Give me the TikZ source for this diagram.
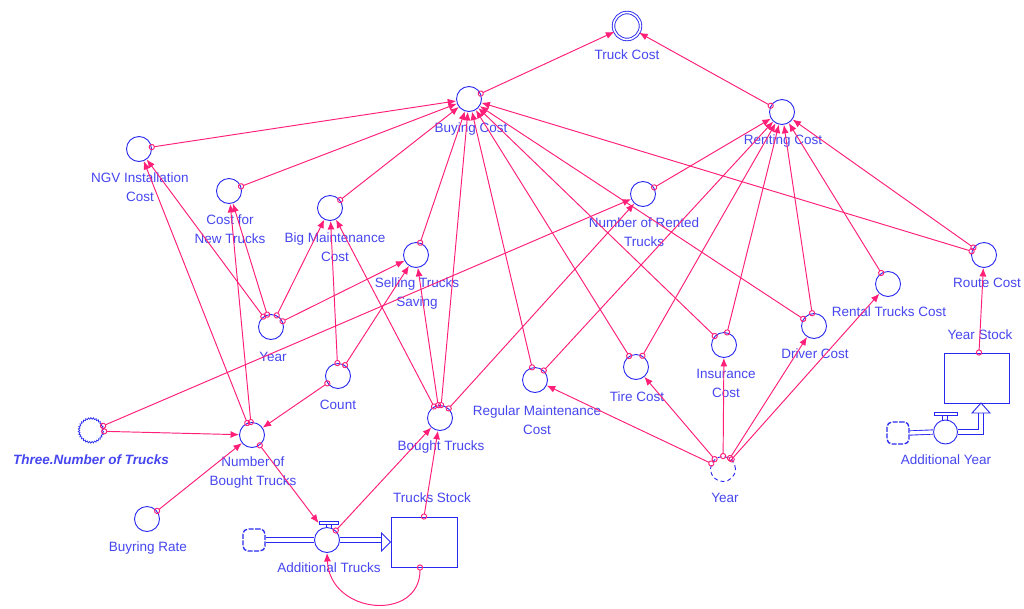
\documentclass[tikz,border=0pt]{standalone}
\usepackage{fontspec}
\setmainfont{Liberation Sans}
\usetikzlibrary{arrows.meta,decorations.pathmorphing}
\definecolor{nodeblue}{RGB}{40,40,240}
\definecolor{lblblue}{RGB}{70,70,240}
\definecolor{linkpink}{RGB}{255,30,120}
\tikzset{
  var/.style={circle,draw=nodeblue,line width=0.9pt,minimum size=25pt,inner sep=0pt,fill=white},
  conn/.style={draw=linkpink,line width=0.95pt,
    {Circle[open,length=6.2pt,width=6.2pt]}-{Latex[length=8.5pt,width=7pt]},
    shorten <=-3.1pt},
  lbl/.style={text=lblblue,font=\fontsize{13.5}{19}\selectfont,align=center,inner sep=0pt},
  pipe/.style={draw=nodeblue,line width=0.9pt,double=white,double distance=3.4pt},
  stock/.style={rectangle,draw=nodeblue,line width=1pt,inner sep=0pt,fill=white},
  cloudbox/.style={rectangle,rounded corners=5pt,draw=nodeblue,line width=1.3pt,
    minimum size=22pt,inner sep=0pt,dash pattern=on 5pt off 1.5pt,fill=white},
  valvebar/.style={rectangle,draw=nodeblue,line width=0.9pt,minimum width=19pt,
    minimum height=3pt,inner sep=0pt,fill=white},
  flowtip/.style={draw=nodeblue,line width=0.9pt,fill=white},
}
\begin{document}
\begin{tikzpicture}[x=1pt,y=-1pt]
\fill[white] (0,0) rectangle (1024,608);
\useasboundingbox (0,0) rectangle (1024,608);

% ---------- auxiliaries ----------
\node[var,double=white,double distance=1.6pt,minimum size=27pt] (tc) at (627,26) {};
\node[var] (bc)    at (469,99)  {};
\node[var] (rc)    at (782,112) {};
\node[var] (ngv)   at (139,149) {};
\node[var] (cnt)   at (229,191) {};
\node[var] (bmc)   at (330,208) {};
\node[var] (sts)   at (416,255) {};
\node[var] (nrt)   at (643,194) {};
\node[var] (yr1)   at (271,327) {};
\node[var] (count) at (338,376) {};
\node[var] (route) at (984,255) {};
\node[var] (rtc)   at (888,284) {};
\node[var] (drv)   at (814,326) {};
\node[var] (ins)   at (724,345) {};
\node[var] (tire)  at (636,367) {};
\node[var] (rmc)   at (535,380) {};
\node[var] (bt)    at (440,418) {};
\node[var] (nbt)   at (252,435) {};
\node[var] (br)    at (147,519) {};
\node[var,dash pattern=on 4pt off 3pt] (yr2) at (723,469) {};

% ghost of the truck count
\node[circle,minimum size=26pt,inner sep=0pt] (tn) at (91,431) {};
\draw[nodeblue,line width=0.7pt,decorate,
  decoration={snake,amplitude=0.8pt,segment length=2.5pt}] (tn.center) circle[radius=12pt];

% ---------- trucks stock and flow ----------
\node[stock,minimum width=66pt,minimum height=50pt] (ts) at (424,542) {};
\node[cloudbox] (c1) at (254,540) {};
\node[var] (at) at (327,540) {};
\node[valvebar] (atbar) at (328.5,523) {};
\draw[nodeblue,line width=0.9pt] (326.7,524.5) -- (326.7,527.6) (331.7,524.5) -- (331.7,527.6);
\draw[pipe] (c1.east) -- (at.west);
\draw[pipe] (at.east) -- (382,540);
\draw[flowtip] (ts.west) -- ++(-9,-9) -- ++(0,18) -- cycle;

% ---------- year stock and flow ----------
\node[stock,minimum width=65pt,minimum height=50pt] (ys) at (976.5,378) {};
\node[cloudbox] (c2) at (898,433) {};
\node[var,minimum size=24pt] (ay) at (945.5,432) {};
\node[valvebar,minimum width=23pt] (aybar) at (945.5,413.5) {};
\draw[nodeblue,line width=0.9pt] (942.5,415) -- (942.5,420) (947.5,415) -- (947.5,420);
\draw[pipe] (c2.east) -- (ay.west);
\draw[pipe] (ay.east) -- (981,432) -- (981,413);
\draw[flowtip] (981,403) -- (990,413) -- (972,413) -- cycle;

% ---------- labels ----------
\node[lbl] (l-tc)    at (627,55)  {Truck Cost};
\node[lbl] (l-bc)    at (471,129) {Buying Cost};
\node[lbl] (l-rc)    at (783,141) {Renting Cost};
\node[lbl] (l-ngv)   at (140,187) {NGV Installation\\Cost};
\node[lbl] (l-cnt)   at (230,229) {Cost for\\New Trucks};
\node[lbl] (l-bmc)   at (335,247) {Big Maintenance\\Cost};
\node[lbl] (l-sts)   at (417,294) {Selling Trucks\\Saving};
\node[lbl] (l-nrt)   at (644,232) {Number of Rented\\Trucks};
\node[lbl] (l-yr1)   at (273,357) {Year};
\node[lbl] (l-count) at (338,405) {Count};
\node[lbl] (l-route) at (987,283) {Route Cost};
\node[lbl] (l-rtc)   at (889,312) {Rental Trucks Cost};
\node[lbl] (l-drv)   at (815,354) {Driver Cost};
\node[lbl] (l-ins)   at (726,383) {Insurance\\Cost};
\node[lbl] (l-tire)  at (637,397) {Tire Cost};
\node[lbl] (l-rmc)   at (537,420) {Regular Maintenance\\Cost};
\node[lbl] (l-bt)    at (441,447) {Bought Trucks};
\node[lbl] (l-nbt)   at (253,473) {Number of\\Bought Trucks};
\node[lbl,font=\fontsize{13.5}{19}\selectfont\bfseries\itshape] (l-tn) at (91,460) {Three.Number of Trucks};
\node[lbl] (l-br)    at (148,548) {Buyring Rate};
\node[lbl] (l-yr2)   at (725,498) {Year};
\node[lbl] (l-at)    at (329,568) {Additional Trucks};
\node[lbl] (l-ts)    at (432,498) {Trucks Stock};
\node[lbl] (l-ys)    at (980,335) {Year Stock};
\node[lbl] (l-ay)    at (946,460) {Additional Year};

% ---------- connectors ----------
\draw[conn] (bc) -- (tc);
\draw[conn] (rc) -- (tc);

\draw[conn] (ngv) -- (bc);
\draw[conn] (cnt) -- (bc);
\draw[conn] (bmc) -- (bc);
\draw[conn] (sts) -- (bc);
\draw[conn] (bt) -- (bc);
\draw[conn] (rmc) -- (bc);
\draw[conn] (tire) -- (bc);
\draw[conn] (ins) -- (bc);
\draw[conn] (drv) -- (bc);
\draw[conn] (route) -- (bc);

\draw[conn] (nrt) -- (rc);
\draw[conn] (rmc) -- (rc);
\draw[conn] (tire) -- (rc);
\draw[conn] (ins) -- (rc);
\draw[conn] (drv) -- (rc);
\draw[conn] (rtc) -- (rc);
\draw[conn] (route) -- (rc);

\draw[conn] (yr1) -- (ngv);
\draw[conn] (yr1) -- (cnt);
\draw[conn] (yr1) -- (bmc);
\draw[conn] (yr1) -- (sts);
\draw[conn] (nbt) -- (ngv);
\draw[conn] (nbt) -- (cnt);
\draw[conn] (count) -- (bmc);
\draw[conn] (count) -- (sts);
\draw[conn] (count) -- (nbt);
\draw[conn] (bt) -- (bmc);
\draw[conn] (bt) -- (sts);
\draw[conn] (bt) -- (nrt);
\draw[conn] (tn) -- (nrt);
\draw[conn] (tn) -- (nbt);
\draw[conn] (br) -- (nbt);
\draw[conn] (nbt) -- (atbar.west);
\draw[conn] (at) -- (bt);
\draw[conn] (ts.north) -- (bt);
\draw[conn] ([xshift=-4pt]ts.south) .. controls (420,622) and (330,615) .. (at.south);

\draw[conn] (yr2) -- (rmc);
\draw[conn] (yr2) -- (tire);
\draw[conn] (yr2) -- (ins);
\draw[conn] (yr2) -- (drv);
\draw[conn] (yr2) -- (rtc);
\draw[conn] ([xshift=2.5pt]ys.north) -- (route);
\end{tikzpicture}
\end{document}
